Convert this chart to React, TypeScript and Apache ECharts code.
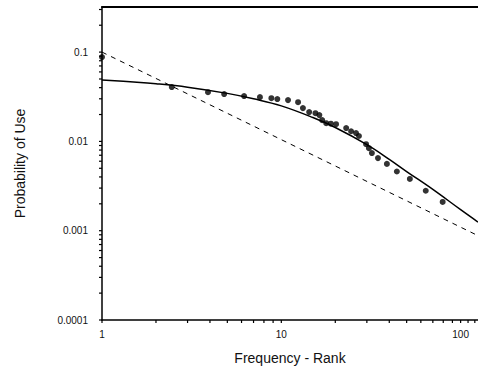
import React, { useEffect, useRef } from "react";
import * as echarts from "echarts";

// Observed data points (frequency rank vs probability of use)
const RANK = [1, 2.45, 3.9, 4.8, 6.2, 7.6, 8.8, 9.5, 10.9, 12.4, 13.2, 14.3, 15.5, 16.3, 16.9, 17.8, 18.9, 20.2, 23.0, 24.5, 26.1, 27.1, 29.7, 30.8, 32.0, 34.6, 38.8, 44.1, 52.1, 63.9, 79.4];
const PROB = [0.088, 0.0406, 0.0356, 0.0339, 0.0322, 0.0313, 0.0305, 0.0298, 0.029, 0.0275, 0.0236, 0.0213, 0.0207, 0.0197, 0.0173, 0.016, 0.0158, 0.0156, 0.0141, 0.013, 0.0124, 0.0115, 0.0093, 0.0084, 0.0074, 0.0065, 0.0056, 0.0046, 0.0038, 0.0028, 0.0021];

// Fitted curve (solid)
const FIT_X = [1, 1.5, 2, 3, 5, 7, 10, 15, 20, 30, 40, 50, 70, 100, 125];
const FIT_Y = [0.0486, 0.0463, 0.0443, 0.0405, 0.0345, 0.03, 0.025, 0.0185, 0.0143, 0.0092, 0.0063, 0.0046, 0.0029, 0.00172, 0.00125];

// Zipf line (dashed)
const ZIPF_X = [1, 125];
const ZIPF_Y = [0.1, 0.00088];

// Axis ranges and tick labels
const X_MIN = 1;
const X_MAX = 125;
const Y_MIN = 0.0001;
const Y_MAX = 0.32;
const X_LABELS = ["1", "10", "100"];
const Y_LABELS = ["0.0001", "0.001", "0.01", "0.1"];

// Tick positions (log-spaced)
const X_TICKS = [1, 2, 3, 4, 5, 6, 7, 8, 9, 10, 20, 30, 40, 50, 60, 70, 80, 90, 100, 110, 120];
const Y_TICKS = [
  0.0001, 0.0002, 0.0003, 0.0004, 0.0005, 0.0006, 0.0007, 0.0008, 0.0009,
  0.001, 0.002, 0.003, 0.004, 0.005, 0.006, 0.007, 0.008, 0.009,
  0.01, 0.02, 0.03, 0.04, 0.05, 0.06, 0.07, 0.08, 0.09,
  0.1, 0.2, 0.3,
];

const FONT = "'Liberation Sans', Arial, sans-serif";

function labelFor(v: number, labels: string[]) {
  for (const l of labels) {
    if (Math.abs(parseFloat(l) - v) / parseFloat(l) < 1e-6) return l;
  }
  return "";
}

export default function App() {
  const ref = useRef<HTMLDivElement>(null);
  useEffect(() => {
    if (!ref.current) return;
    const chart = echarts.init(ref.current, null, { renderer: "svg" });
    const option: any = {
      animation: false,
      backgroundColor: "#ffffff",
      grid: { left: 102, right: 0, top: 7, bottom: 55 },
      xAxis: [
        {
          type: "log",
          min: X_MIN,
          max: X_MAX,
          name: "Frequency - Rank",
          nameLocation: "middle",
          nameGap: 31,
          nameTextStyle: { fontFamily: FONT, fontSize: 14, color: "#111" },
          axisLine: { show: true, lineStyle: { color: "#000", width: 1.5 } },
          axisTick: { show: false },
          splitLine: { show: false },
          axisLabel: {
            margin: 9,
            fontFamily: FONT,
            fontSize: 10,
            color: "#111",
            showMaxLabel: false,
            formatter: (v: number) => labelFor(v, X_LABELS),
          },
        },
        {
          type: "log",
          min: X_MIN,
          max: X_MAX,
          position: "top",
          axisLine: { show: true, lineStyle: { color: "#000", width: 2 } },
          axisTick: { show: false },
          axisLabel: { show: false },
          splitLine: { show: false },
        },
      ],
      yAxis: {
        type: "log",
        min: Y_MIN,
        max: Y_MAX,
        name: "Probability of Use",
        nameLocation: "middle",
        nameGap: 75,
        nameTextStyle: { fontFamily: FONT, fontSize: 14, color: "#111" },
        axisLine: { show: true, lineStyle: { color: "#000", width: 1.5 } },
        axisTick: { show: false },
        splitLine: { show: false },
        axisLabel: {
          margin: 14,
          fontFamily: FONT,
          fontSize: 10,
          color: "#111",
          showMaxLabel: false,
          formatter: (v: number) => labelFor(v, Y_LABELS),
        },
      },
      series: [
        {
          type: "line",
          data: ZIPF_X.map((x, i) => [x, ZIPF_Y[i]]),
          showSymbol: false,
          lineStyle: { color: "#000", width: 1, type: [5, 5] },
          z: 2,
        },
        {
          type: "line",
          data: FIT_X.map((x, i) => [x, FIT_Y[i]]),
          showSymbol: false,
          smooth: 0.4,
          lineStyle: { color: "#000", width: 1.5 },
          z: 3,
        },
        {
          type: "scatter",
          data: RANK.map((x, i) => [x, PROB[i]]),
          symbol: "circle",
          symbolSize: 6,
          itemStyle: { color: "#000" },
          z: 4,
        },
        {
          type: "custom",
          data: X_TICKS.map((x) => [x, Y_MIN]),
          clip: false,
          renderItem: (params: any, api: any) => {
            const p = api.coord([api.value(0), api.value(1)]);
            return {
              type: "line",
              shape: { x1: p[0], y1: p[1], x2: p[0], y2: p[1] + 3 },
              style: { stroke: "#000", lineWidth: 1.2 },
            };
          },
          z: 5,
        },
        {
          type: "custom",
          data: Y_TICKS.map((y) => [X_MIN, y]),
          clip: false,
          renderItem: (params: any, api: any) => {
            const p = api.coord([api.value(0), api.value(1)]);
            return {
              type: "line",
              shape: { x1: p[0], y1: p[1], x2: p[0] - 3, y2: p[1] },
              style: { stroke: "#000", lineWidth: 1.2 },
            };
          },
          z: 5,
        },
      ],
    };
    chart.setOption(option);
    return () => chart.dispose();
  }, []);
  return (
    <div
      ref={ref}
      style={{ position: "fixed", left: 0, top: 0, width: 478, height: 375, background: "#fff" }}
    />
  );
}
